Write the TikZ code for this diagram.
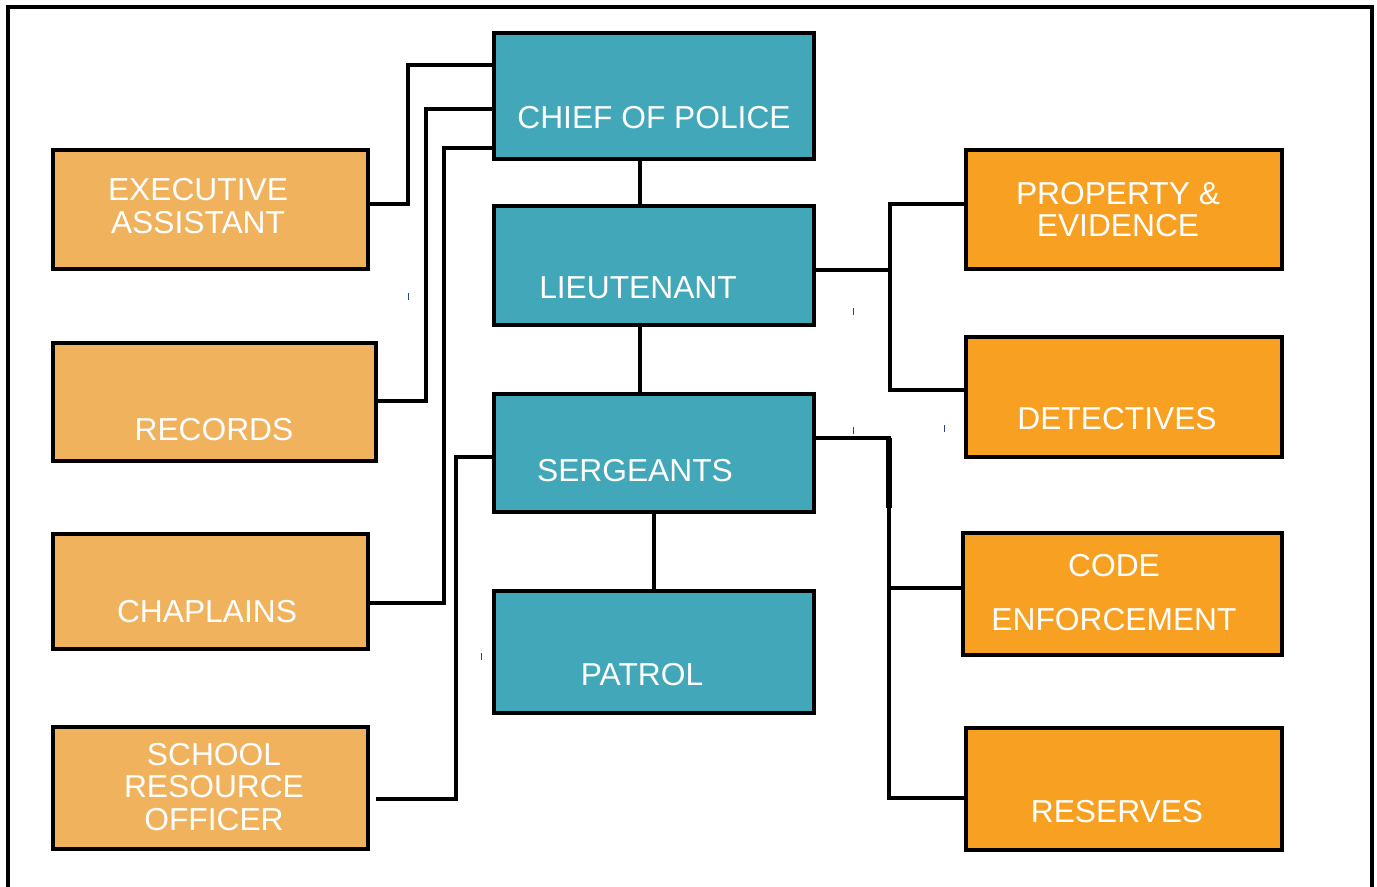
\documentclass[tikz,border=0pt]{standalone}
\usepackage{fontspec}
\setmainfont{Liberation Sans}
\usetikzlibrary{fit}
\definecolor{leftc}{RGB}{240,178,92}
\definecolor{rightc}{RGB}{247,160,33}
\definecolor{tealc}{RGB}{65,167,185}
\definecolor{tickc}{RGB}{40,70,130}
\begin{document}
\begin{tikzpicture}[x=0.75pt,y=-0.75pt,
  box/.style={draw=black, line width=3.5pt, inner sep=0pt},
  lbox/.style={box, fill=leftc},
  rbox/.style={box, fill=rightc},
  cbox/.style={box, fill=tealc},
  txt/.style={text=white, font=\fontsize{23.8}{24.5}\selectfont, align=center, inner sep=0pt},
  conn/.style={draw=black, line width=2.5pt},
  tickmark/.style={draw=tickc, line width=0.75pt},
  frame/.style={draw=black, line width=3pt}]
\useasboundingbox (0,0) rectangle (1377,886);
\draw[frame] (8,890) -- (8,7) -- (1372,7) -- (1372,890);
% left boxes
\node[lbox, fit={(53,150) (368,269)}] (exec) {};
\node[lbox, fit={(53,343) (376,461)}] (records) {};
\node[lbox, fit={(53,534) (368,649)}] (chap) {};
\node[lbox, fit={(53,727) (368,849)}] (sro) {};
% centre boxes
\node[cbox, fit={(494,33) (814,159)}] (chief) {};
\node[cbox, fit={(494,206) (814,325)}] (lt) {};
\node[cbox, fit={(494,394) (814,512)}] (sgt) {};
\node[cbox, fit={(494,591) (814,713)}] (patrol) {};
% right boxes
\node[rbox, fit={(966,150) (1282,269)}] (prop) {};
\node[rbox, fit={(966,337) (1282,457)}] (det) {};
\node[rbox, fit={(963,533) (1282,655)}] (code) {};
\node[rbox, fit={(966,728) (1282,850)}] (res) {};
% texts
\node[txt] (exec-t) at (198,206) {EXECUTIVE\\ASSISTANT};
\node[txt] (records-t) at (214,430) {RECORDS};
\node[txt] (chap-t) at (207,612) {CHAPLAINS};
\node[txt] (sro-t) at (214,787) {SCHOOL\\RESOURCE\\OFFICER};
\node[txt] (chief-t) at (654,118) {CHIEF OF POLICE};
\node[txt] (lt-t) at (638,288) {LIEUTENANT};
\node[txt] (sgt-t) at (635,471) {SERGEANTS};
\node[txt] (patrol-t) at (642,675) {PATROL};
\node[txt] (prop-t) at (1118,209.5) {PROPERTY \&\\EVIDENCE};
\node[txt] (det-t) at (1117,419) {DETECTIVES};
\node[txt] (code-t) at (1114,593) {CODE\\[16pt]ENFORCEMENT};
\node[txt] (res-t) at (1117,812) {RESERVES};
% connectors left
\coordinate (sroend) at (376,799);
\draw[conn] (exec.east |- 0,204) -- (408,204) -- (408,65) -- (chief.west |- 0,65);
\draw[conn] (records.east |- 0,401) -- (426,401) -- (426,109) -- (chief.west |- 0,109);
\draw[conn] (chap.east |- 0,603) -- (444,603) -- (444,148) -- (chief.west |- 0,148);
\draw[conn] (sroend) -- (456,799) -- (456,457) -- (sgt.west |- 0,457);
% connectors centre
\draw[conn] (chief.south -| 640,0) -- (lt.north -| 640,0);
\draw[conn] (lt.south -| 640,0) -- (sgt.north -| 640,0);
\draw[conn] (sgt.south) -- (patrol.north);
% connectors right
\draw[conn] (lt.east |- 0,270) -- (890,270);
\draw[conn] (prop.west |- 0,204) -- (890,204) -- (890,390) -- (det.west |- 0,390);
\draw[conn] (sgt.east |- 0,438) -- (889,438) -- (889,798) -- (res.west |- 0,798);
\draw[conn] (889,588) -- (code.west |- 0,588);
\draw[draw=black, line width=3.8pt] (889,438) -- (889,508);
% small marks
\draw[tickmark] (408,293) -- (408,300);
\draw[tickmark] (853,308) -- (853,315);
\draw[tickmark] (853,427) -- (853,434);
\draw[tickmark] (944,425) -- (944,432);
\draw[tickmark] (481,653) -- (481,660);
\end{tikzpicture}
\end{document}
